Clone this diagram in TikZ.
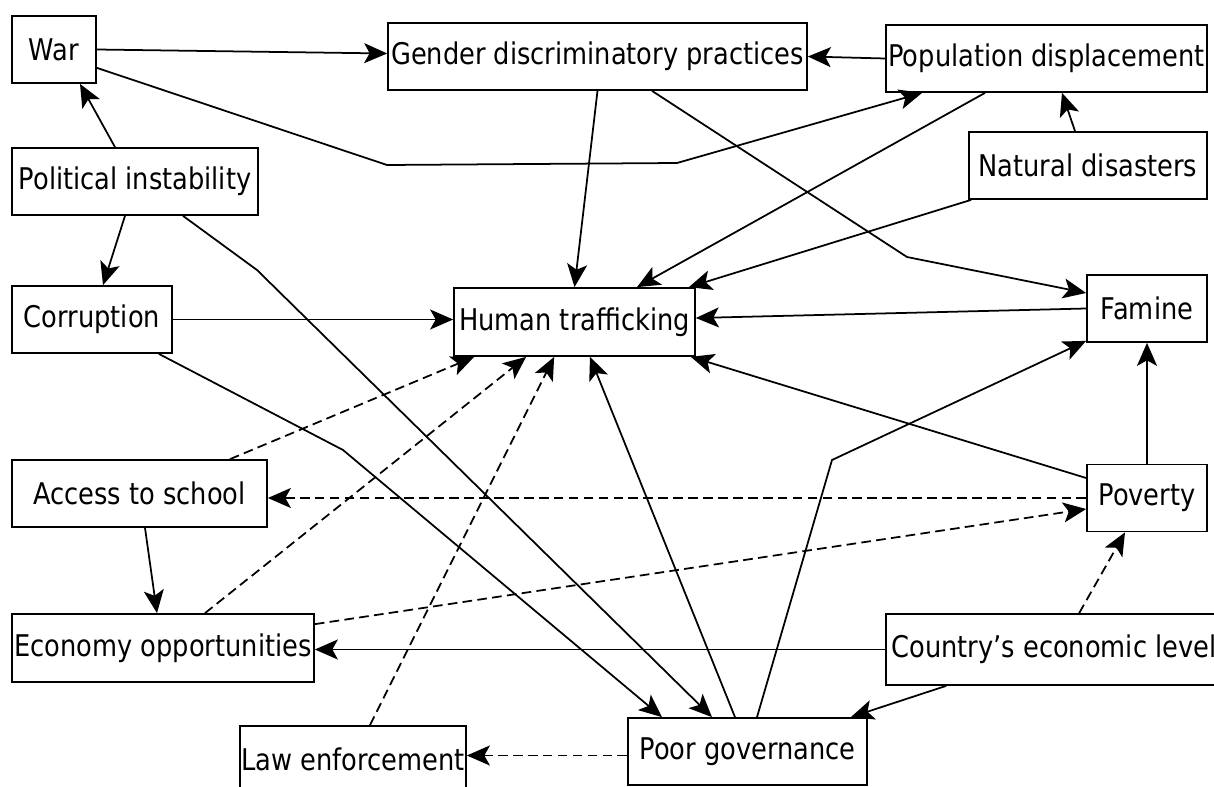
\documentclass[tikz,border=0pt]{standalone}
\usepackage{fontspec}
\setmainfont{DejaVu Sans}[FakeStretch=0.86]
\usetikzlibrary{arrows.meta}
\usetikzlibrary{calc}

\begin{document}
\begin{tikzpicture}[x=0.02cm,y=-0.02cm,
    box/.style={draw,fill=white,line width=1pt,inner sep=0pt,minimum height=1.34cm,
      font=\fontsize{17}{20}\selectfont},
    link/.style={arrows=-{Stealth[length=0.46cm,width=0.4cm,inset=0.11cm]},line width=1pt},
    weak/.style={link,dash pattern=on 5.5pt off 3pt}]
    \useasboundingbox (0,0) rectangle (1214,787);

    \node [box,minimum width=1.68cm] (war)  at (54,49.5)    {War};
    \node [box,minimum width=4.92cm] (pi)   at (135,181.5)  {Political instability};
    \node [box,minimum width=8.38cm] (gdp)  at (597.5,56.5) {Gender discriminatory practices};
    \node [box,minimum width=6.42cm] (pop)  at (1046.5,58.5) {Population displacement};
    \node [box,minimum width=4.76cm] (nat)  at (1088,165.5) {Natural disasters};
    \node [box,minimum width=3.2cm]  (corr) at (92,319.5)   {Corruption};
    \node [box,minimum width=4.82cm,minimum height=1.36cm] (ht) at (574.5,322) {Human trafficking};
    \node [box,minimum width=2.4cm]  (fam)  at (1147,308.5) {Famine};
    \node [box,minimum width=5.1cm]  (acc)  at (139.5,493.5) {Access to school};
    \node [box,minimum width=2.4cm]  (pov)  at (1147,498)   {Poverty};
    \node [box,minimum width=6.04cm,minimum height=1.36cm] (econ) at (163,648) {Economy opportunities};
    \node [box,minimum width=6.72cm,minimum height=1.42cm] (cel) at (1054,649.5) {Country’s economic level};
    \node [box,minimum width=4.78cm] (pg)   at (747.5,751.5) {Poor governance};
    \node [box,minimum width=4.52cm] (le)   at (353,759.5)  {Law enforcement};

    \coordinate (warbendA) at (387,165);
    \coordinate (warbendB) at (677,163);
    \coordinate (pibend)   at (257,270);
    \coordinate (corrbend) at (343,450);
    \coordinate (gdpbend)  at (907,257);
    \coordinate (pgbend)   at (832,460);

    % top row
    \draw [link] (war.east) -- ($(gdp.west)+(0,-3)$);
    \draw [link] ($(war.south east)+(0,-16)$) -- (warbendA) -- (warbendB) -- ($(pop.south west)+(37,0)$);
    \draw [link] (pop.west) -- (gdp.east);
    \draw [link] ($(nat.north)+(-13,0)$) -- ($(pop.south)+(15.5,0)$);
    \draw [link] ($(pi.north)+(-20,0)$) -- ($(war.south)+(26,0)$);
    \draw [link] ($(pi.south)+(-10,0)$) -- ($(corr.north)+(11,0)$);
    \draw [link] ($(pi.south)+(48,0)$) -- (pibend) -- ($(pg.north)+(-35.5,0)$);
    \draw [link] ($(corr.south east)+(-14,0)$) -- (corrbend) -- ($(pg.north)+(-85.5,0)$);
    \draw [link] (gdp.south) -- (ht.north);
    \draw [link] ($(gdp.south)+(54.5,0)$) -- (gdpbend) -- ($(fam.west)+(0,-15.5)$);

    % into human trafficking
    \draw [link] (corr.east) -- (corr.east -| ht.west);
    \draw [link] ($(pop.south)+(-61.5,0)$) -- ($(ht.north)+(62.5,0)$);
    \draw [link] ($(nat.south west)+(3,0)$) -- ($(ht.north east)+(-7,0)$);
    \draw [link] (fam.west) -- ($(ht.east)+(0,-4)$);
    \draw [link] ($(pov.west)+(0,-20)$) -- ($(ht.south east)+(-5,0)$);
    \draw [link] ($(pg.north)+(-12.5,0)$) -- ($(ht.south)+(15.5,0)$);
    \draw [weak] ($(acc.north)+(90.5,0)$) -- ($(ht.south west)+(21,0)$);
    \draw [weak] ($(econ.north)+(42,0)$) -- ($(ht.south west)+(73,0)$);
    \draw [weak] ($(le.north)+(17,0)$) -- ($(ht.south west)+(101,0)$);

    % lower part
    \draw [link] (pov.north) -- (fam.south);
    \draw [weak] (pov.west) -- (pov.west -| acc.east);
    \draw [weak] ($(econ.north east)+(0,11)$) -- ($(pov.west)+(0,11)$);
    \draw [weak] ($(cel.north west)+(194,0)$) -- ($(pov.south)+(-22,0)$);
    \draw [link] (cel.west) -- (cel.west -| econ.east);
    \draw [link] ($(cel.south west)+(61,0)$) -- ($(pg.north east)+(-17,0)$);
    \draw [weak] ($(pg.west)+(0,4)$) -- ($(pg.west -| le.east)+(0,4)$);
    \draw [link] ($(pg.north)+(9.5,0)$) -- (pgbend) -- ($(fam.south west)+(0,-2)$);
    \draw [link] ($(acc.south)+(5.5,0)$) -- ($(econ.north)+(-6,0)$);
\end{tikzpicture}
\end{document}
